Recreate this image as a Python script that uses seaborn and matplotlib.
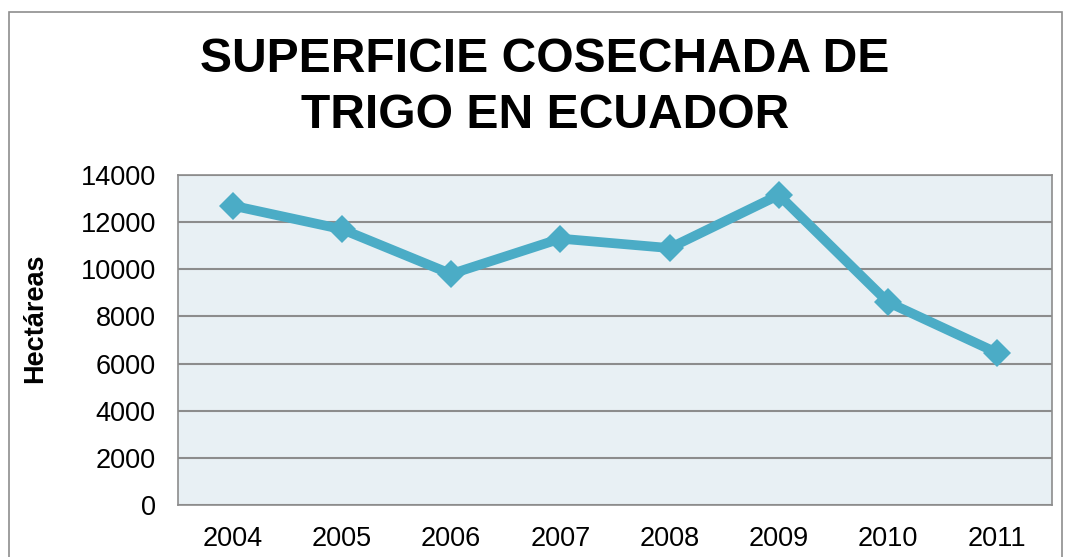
import matplotlib
matplotlib.use("Agg")
import matplotlib.pyplot as plt
import seaborn as sns
import pandas as pd
from matplotlib.patches import Rectangle

years = ["2004", "2005", "2006", "2007", "2008", "2009", "2010", "2011"]
hectareas = [12700, 11700, 9800, 11300, 10900, 13150, 8600, 6450]
y_ticks = [0, 2000, 4000, 6000, 8000, 10000, 12000, 14000]
title_lines = ["SUPERFICIE COSECHADA DE", "TRIGO EN ECUADOR"]
ylabel = "Hectáreas"

sns.set_style("white")
plt.rcParams['font.family'] = ['Liberation Sans', 'DejaVu Sans']
plt.rcParams['text.color'] = 'black'
plt.rcParams['xtick.color'] = 'black'
plt.rcParams['ytick.color'] = 'black'
plt.rcParams['axes.labelcolor'] = 'black'

df = pd.DataFrame({"year": years, "value": hectareas})

W, H = 1069, 557
fig = plt.figure(figsize=(W / 100, H / 100), dpi=100)
ax = fig.add_axes([178 / W, 1 - 505 / H, (1052 - 178) / W, (505 - 175) / H])

# outer chart border
fig.patches.append(Rectangle((9 / W, -0.1), (1062 - 9) / W, 1 - 12 / H + 0.1,
                             transform=fig.transFigure, fill=False,
                             edgecolor="#8E8E8E", linewidth=1.2))

ax.set_facecolor("#E8F0F4")
sns.lineplot(data=df, x="year", y="value", ax=ax, color="#4BACC6",
             linewidth=7, marker="D", markersize=14, markeredgewidth=0,
             sort=False)

ax.set_ylim(0, 14000)
ax.set_xlim(-0.5, len(years) - 0.5)
ax.set_yticks(y_ticks)
ax.set_yticklabels([str(v) for v in y_ticks])
ax.yaxis.grid(True, color="#8C8C8C", linewidth=1.5)
ax.set_axisbelow(True)
ax.tick_params(axis="both", labelsize=19.5, length=0)
ax.tick_params(axis="y", pad=16)
ax.tick_params(axis="x", pad=15)
for s in ax.spines.values():
    s.set_color("#8C8C8C")
    s.set_linewidth(1.2)

ax.set_xlabel("")
ax.set_ylabel("")
fig.text(35 / W, 1 - 318 / H, ylabel, rotation=90, ha="center", va="center",
         fontsize=19.5, fontweight="bold")

fig.text(545 / W, 1 - 60 / H, title_lines[0], ha="center", va="center",
         fontsize=34.6, fontweight="bold")
fig.text(545 / W, 1 - 116 / H, title_lines[1], ha="center", va="center",
         fontsize=34.6, fontweight="bold")

fig.savefig("out.png", dpi=100)
